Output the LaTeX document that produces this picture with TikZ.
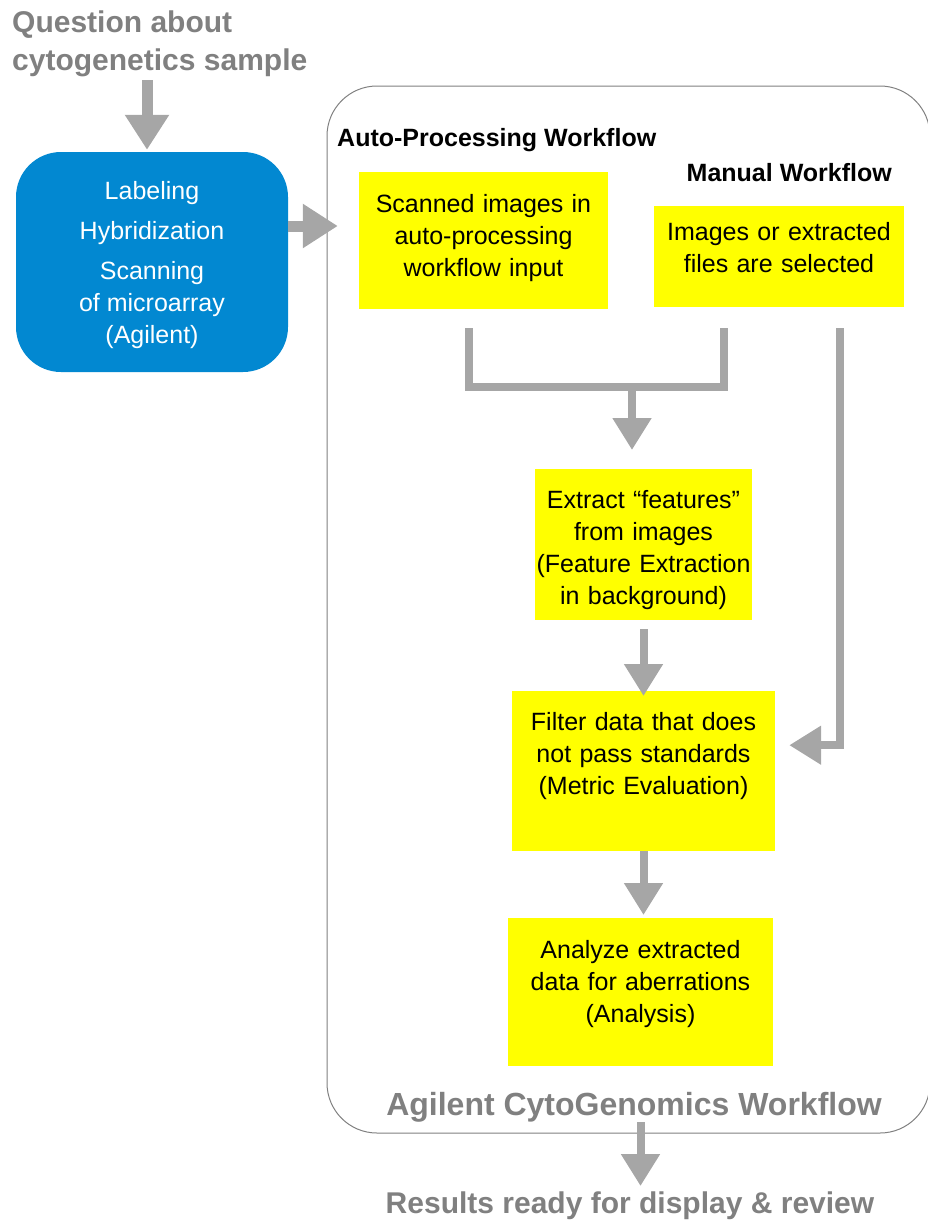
\documentclass[tikz,border=0pt]{standalone}
\usepackage{fontspec}
\setmainfont{Liberation Sans}
\usetikzlibrary{arrows.meta}

\definecolor{cgblue}{RGB}{2,136,209}
\definecolor{cgyellow}{RGB}{255,255,0}
\definecolor{cgarrow}{RGB}{166,166,166}
\definecolor{cggray}{RGB}{128,128,128}

\begin{document}
\begin{tikzpicture}[x=1pt, y=-1pt, line join=miter]

        % Styles
        \tikzstyle{stepbox}=[fill=cgyellow, inner sep=0pt, align=center, anchor=north, font=\fontsize{25}{32}\selectfont]
        \tikzstyle{procbox}=[fill=cgblue, text=white, rounded corners=45pt, align=center, minimum width=272pt, minimum height=220pt, font=\fontsize{25}{32}\selectfont]
        \tikzstyle{heading}=[inner sep=0pt, font=\bfseries\fontsize{25}{30}\selectfont]
        \tikzstyle{caption}=[inner sep=0pt, text=cggray, font=\bfseries\fontsize{30}{38}\selectfont]
        \tikzstyle{flow}=[draw=cgarrow, line width=11pt, -{Triangle[width=42pt, length=35pt]}]
        \tikzstyle{flowthin}=[draw=cgarrow, line width=8pt, -{Triangle[width=37pt, length=32pt]}]
        \tikzstyle{link}=[draw=cgarrow, line width=8pt]

        \useasboundingbox (0,0) rectangle (928,1224);

        % Cadre
        \draw[cggray, line width=1pt, rounded corners=50pt] (327,86) rectangle (930,1133);

        % Nœuds
        \node[caption, anchor=north west, align=left] (q) at (12,11) {Question about\\cytogenetics sample};
        \node[procbox, text depth=0pt] (lab) at (152,262) {Labeling\\[8pt]Hybridization\\[8pt]Scanning\\of microarray\\(Agilent)};
        \node[heading, anchor=base west] (auto) at (337,146) {Auto-Processing Workflow};
        \node[heading, anchor=base east] (manual) at (892,181) {Manual Workflow};
        \node[stepbox, text width=249pt, text height=40pt, text depth=97pt] (scan) at (483.5,172) {Scanned images in\\auto-processing\\workflow input};
        \node[stepbox, text width=250pt, text height=34pt, text depth=67pt] (sel) at (779,206) {Images or extracted\\files are selected};
        \node[stepbox, text width=217pt, text height=39pt, text depth=112pt] (ext) at (643.5,469) {Extract “features”\\from images\\(Feature Extraction\\in background)};
        \node[stepbox, text width=263pt, text height=39pt, text depth=121pt] (filt) at (643.5,691) {Filter data that does\\not pass standards\\(Metric Evaluation)};
        \node[stepbox, text width=265pt, text height=40pt, text depth=108pt] (ana) at (640.5,918) {Analyze extracted\\data for aberrations\\(Analysis)};
        \node[caption, anchor=base, font=\bfseries\fontsize{32}{38}\selectfont] (cgw) at (634,1115) {Agilent CytoGenomics Workflow};
        \node[caption, anchor=base] (res) at (630,1213) {Results ready for display \& review};
        \coordinate (merge) at (632,387);

        % Flèches
        \draw[flow, shorten <=3pt] ([xshift=-5pt]lab.north |- q.south) -- ([xshift=-5pt, yshift=2pt]lab.north);
        \draw[flow, shorten >=21pt] ([yshift=36pt]lab.east) -- ([yshift=36pt]lab.east -| scan.west);
        \draw[link] ([xshift=-14.5pt, yshift=-19pt]scan.south) |- (merge) -| ([xshift=-55pt, yshift=-21pt]sel.south);
        \draw[flowthin, shorten >=19pt] (merge) -- (merge |- ext.north);
        \draw[flowthin, shorten >=14pt] ([xshift=61pt, yshift=-21pt]sel.south) |- ([yshift=26pt]filt.east);
        \draw[flowthin, shorten <=9pt, shorten >=-5pt] (ext.south) -- (filt.north);
        \draw[flowthin, shorten >=3pt] (filt.south) -- (filt.south |- ana.north);
        \draw[flowthin, shorten <=56pt, shorten >=5pt] (ana.south) -- (ana.south |- res.north);

    \end{tikzpicture}
\end{document}
